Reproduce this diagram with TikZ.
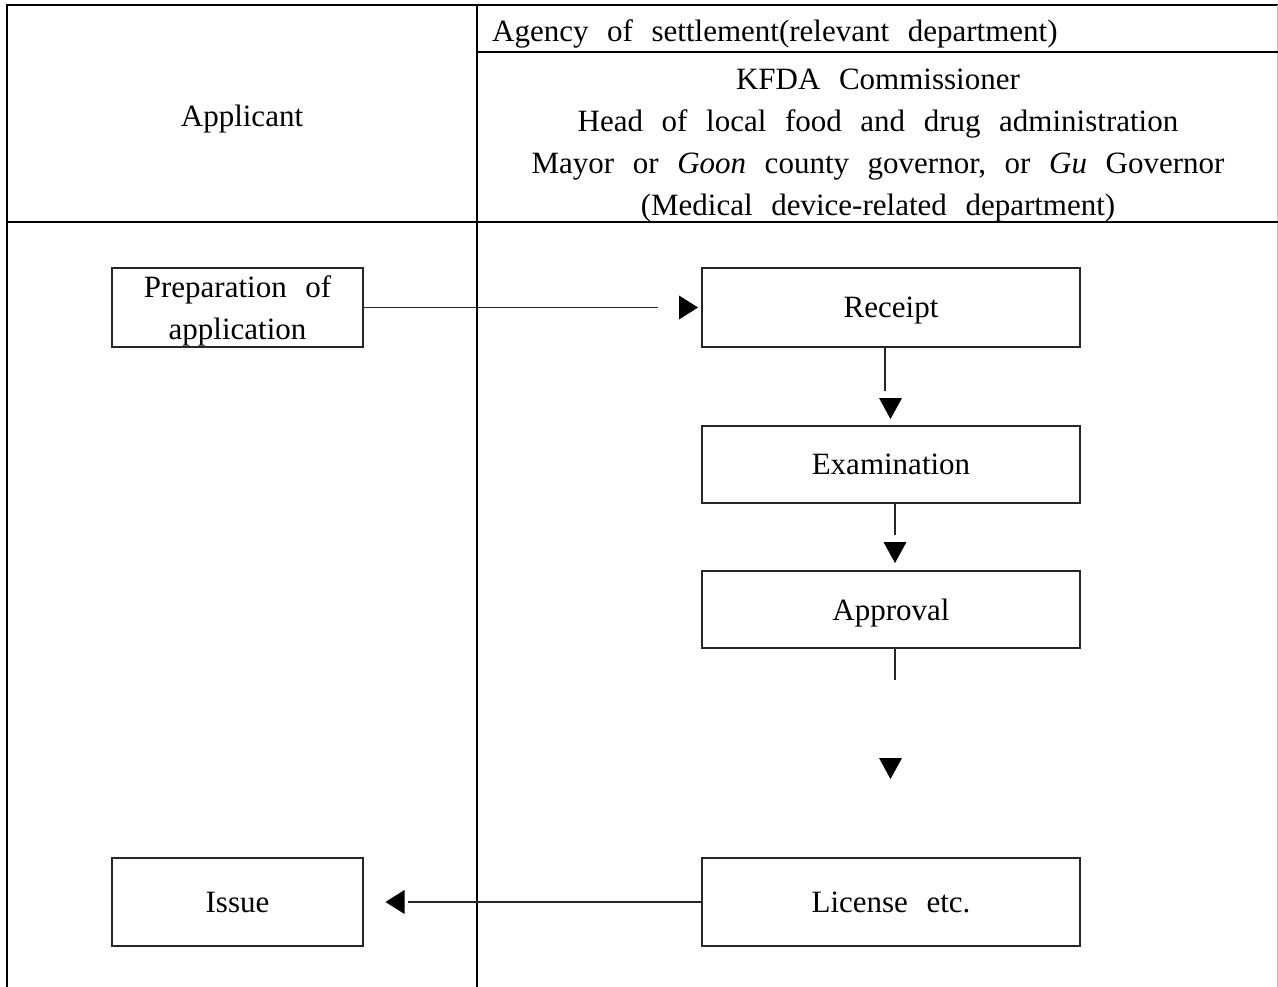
\documentclass[tikz,border=0pt]{standalone}
\usepackage{fontspec}
\setmainfont[WordSpace=2.4]{Liberation Serif}
\begin{document}
\begin{tikzpicture}[x=1pt,y=-1pt,
  every node/.style={font=\fontsize{31}{42}\selectfont, inner sep=0pt},
  stepbox/.style={draw=black!85, line width=1.2pt, align=center, text depth=0pt, minimum width=#1},
  stepbox/.default=378pt,
  link/.style={draw=black!85, line width=1.2pt},
  frame/.style={line width=2.4pt},
  rule/.style={line width=1.5pt},
  pics/tipright/.style={code={\fill (-9.5,-12) -- (9.5,0) -- (-9.5,12) -- cycle;}},
  pics/tipleft/.style={code={\fill (9.5,-12) -- (-9.5,0) -- (9.5,12) -- cycle;}},
  pics/tipdown/.style={code={\fill (-11.5,-10.5) -- (11.5,-10.5) -- (0,10.5) -- cycle;}}]
\useasboundingbox (0,0) rectangle (1278,987);

% table frame and lanes
\draw[frame] (7,987) -- (7,5) -- (1278,5);
\draw[black!25, line width=1pt] (1277,5) -- (1277,987);
\draw[rule] (477,5) -- (477,987);
\draw[rule] (477,52) -- (1278,52);
\draw[rule] (7,222) -- (1278,222);

% lane headings
\node[anchor=base] (applicant) at (242,127) {Applicant};
\node[anchor=base west] (agency) at (492,42) {Agency of settlement(relevant department)};
\node[align=center] (authority) at (878,146) {KFDA Commissioner\\
  Head of local food and drug administration\\
  Mayor or \textit{Goon} county governor, or \textit{Gu} Governor\\
  (Medical device-related department)};

% process steps
\node[stepbox=251pt, minimum height=79pt] (prep) at (237.5,307.5) {Preparation of\\application};
\node[stepbox, minimum height=79pt] (receipt) at (891,307.5) {Receipt};
\node[stepbox, minimum height=77pt] (exam) at (891,464.5) {Examination};
\node[stepbox, minimum height=77pt] (approval) at (891,609.5) {Approval};
\node[stepbox, minimum height=88pt] (license) at (891,902) {License etc.};
\node[stepbox=251pt, minimum height=88pt] (issue) at (237.5,902) {Issue};

% connectors with detached arrowheads
\coordinate (e1) at (658,307.5);
\draw[link] (prep.east) -- (e1);
\pic at (688.5,307.5) {tipright};

\coordinate (e2) at (885,391);
\draw[link] (receipt.south -| e2) -- (e2);
\pic at (890.5,408.5) {tipdown};

\coordinate (e3) at (895,535);
\draw[link] (exam.south -| e3) -- (e3);
\pic at (895,552.5) {tipdown};

\coordinate (e4) at (895,680);
\draw[link] (approval.south -| e4) -- (e4);
\pic at (890.5,768.5) {tipdown};

\coordinate (e5) at (408,902);
\draw[link] (license.west) -- (e5);
\pic at (395,902) {tipleft};
\end{tikzpicture}
\end{document}
